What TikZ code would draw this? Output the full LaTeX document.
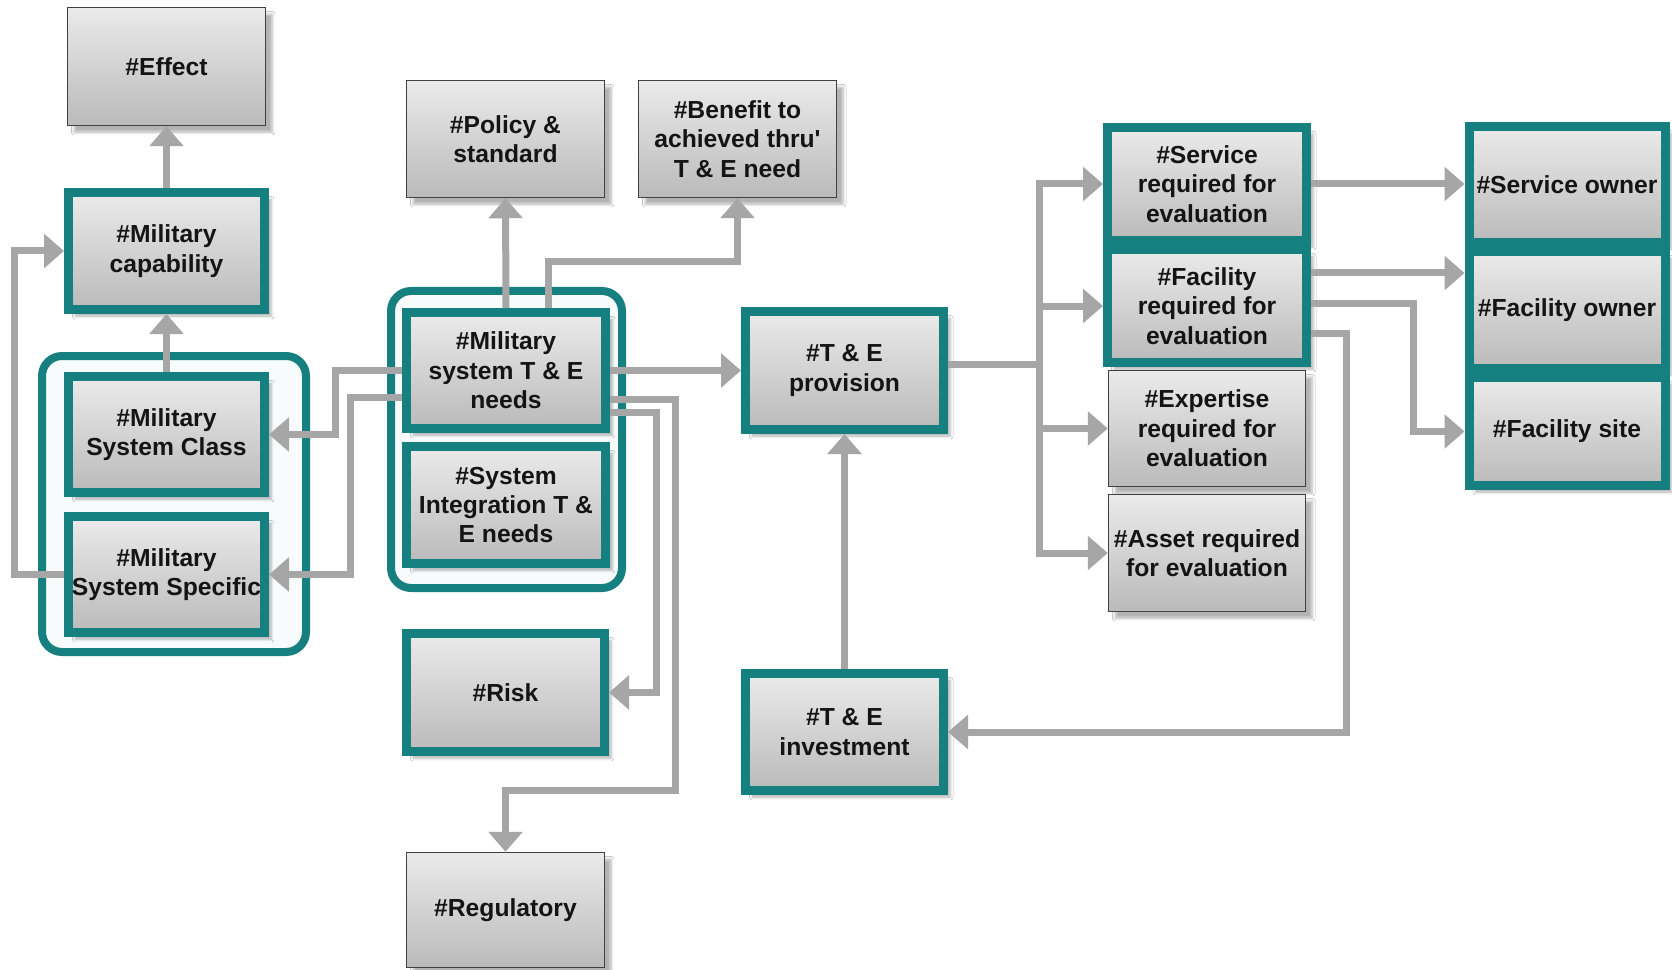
\documentclass[tikz,border=0pt]{standalone}
\usepackage{fontspec}
\setmainfont{Liberation Sans}
\usetikzlibrary{arrows.meta,shadows.blur,calc}
\definecolor{tealc}{RGB}{22,128,128}
\definecolor{conng}{RGB}{166,166,166}
\definecolor{grpfill}{RGB}{247,251,251}
\definecolor{txt}{RGB}{20,20,20}
\tikzset{
  bw/.style={minimum width=#1*0.75pt},
  bh/.style={minimum height=#1*0.75pt},
  base/.style={rectangle, align=center, inner sep=0pt, text=txt,
     font=\bfseries\fontsize{18.5}{22}\selectfont,
     top color=black!8, bottom color=black!27,
     blur shadow={shadow xshift=5pt, shadow yshift=-5pt, shadow opacity=30, shadow blur steps=6}},
  tbox/.style={base, draw=tealc, line width=6.75pt},
  pbox/.style={base, draw=black!75, line width=1.1pt},
  grp/.style={rectangle, draw=tealc, line width=6pt, rounded corners=15pt, fill=grpfill},
  conn/.style={draw=conng, line width=5.25pt, -{Triangle[width=25pt,length=15pt]}},
  seg/.style={draw=conng, line width=5.25pt},
}
\begin{document}
\begin{tikzpicture}[x=0.75pt,y=-0.75pt]
\fill[white] (0,0) rectangle (1672,970);
\useasboundingbox (0,0) rectangle (1672,970);
% groups
\node[grp, bw=264, bh=296] (gleft) at (174,504) {};
\node[grp, bw=231, bh=297] (gneeds) at (506.5,439.5) {};
% left column
\node[pbox, bw=198, bh=118] (effect) at (166.5,66.5) {\#Effect};
\node[tbox, bw=196, bh=117] (cap) at (166.5,251) {\#Military\\capability};
\node[tbox, bw=196, bh=116] (sysclass) at (166.5,434.5) {\#Military\\System Class};
\node[tbox, bw=196, bh=116] (sysspec) at (166.5,574.5) {\#Military\\System Specific};
% middle column
\node[pbox, bw=198, bh=117] (policy) at (505.5,139) {\#Policy \&\\standard};
\node[pbox, bw=198, bh=117] (benefit) at (737.5,139) {\#Benefit to\\achieved thru\textquotesingle\\T \& E need};
\node[tbox, bw=199, bh=116] (needs) at (506,370.5) {\#Military\\system T \& E\\needs};
\node[tbox, bw=199, bh=117] (si) at (506,505) {\#System\\Integration T \&\\E needs};
\node[tbox, bw=198, bh=118] (risk) at (505.5,692.5) {\#Risk};
\node[pbox, bw=198, bh=115] (reg) at (505.5,910) {\#Regulatory};
% provision / investment
\node[tbox, bw=198, bh=118] (prov) at (844.5,370.5) {\#T \& E\\provision};
\node[tbox, bw=198, bh=117] (inv) at (844.5,732) {\#T \& E\\investment};
% required column
\node[tbox, bw=199, bh=113] (service) at (1207,184) {\#Service\\required for\\evaluation};
\node[tbox, bw=199, bh=113] (facility) at (1207,306) {\#Facility\\required for\\evaluation};
\node[pbox, bw=197, bh=116] (expertise) at (1207,428.5) {\#Expertise\\required for\\evaluation};
\node[pbox, bw=197, bh=117] (asset) at (1207,553) {\#Asset required\\for evaluation};
% owners column
\node[tbox, bw=196, bh=116] (sowner) at (1567,184.5) {\#Service owner};
\node[tbox, bw=196, bh=117] (fowner) at (1567,310) {\#Facility owner};
\node[tbox, bw=196, bh=108] (fsite) at (1567,431.5) {\#Facility site};
% connectors
\draw[conn] (cap.north) -- (effect.south);
\draw[conn] (sysclass.north) -- (cap.south);
\draw[conn] (sysspec.west) -- ++(-50,0) |- (cap.west);
\draw[conn] (needs.west) -- ++(-67,0) |- (sysclass.east);
\draw[conn] ([shift={(0,27)}]needs.west) -- ++(-52,0) |- (sysspec.east);
\draw[conn] (needs.north) -- (policy.south);
\draw[conn] ([shift={(42,0)}]needs.north) -- ++(0,-46) -| (benefit.south);
\draw[conn] (needs.east) -- (prov.west);
\draw[conn] ([shift={(0,42)}]needs.east) -- ++(46,0) |- (risk.east);
\draw[conn] ([shift={(0,29)}]needs.east) -- ++(65,0) -- ++(0,391) -| (reg.north);
\draw[conn] (inv.north) -- (prov.south);
\draw[seg] ([shift={(0,-6)}]prov.east) -- ++(91,0) coordinate (bus);
\draw[conn] (bus) |- (service.west);
\draw[conn] (bus) |- (facility.west);
\draw[conn] (bus) |- (expertise.west);
\draw[conn] (bus) |- (asset.west);
\draw[conn] (service.east) -- (service.east -| sowner.west);
\draw[conn] ([shift={(0,-33)}]facility.east) coordinate (f1) -- (f1 -| fowner.west);
\draw[conn] ([shift={(0,-3)}]facility.east) -- ++(102,0) |- (fsite.west);
\draw[conn] ([shift={(0,27)}]facility.east) -- ++(35,0) |- (inv.east);
\end{tikzpicture}
\end{document}
